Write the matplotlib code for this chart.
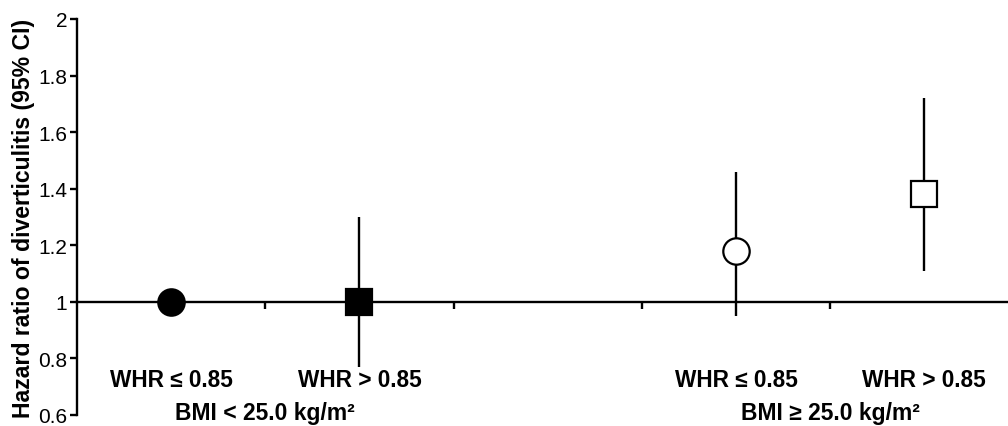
import numpy as np
import matplotlib
matplotlib.use("Agg")
import matplotlib.pyplot as plt

plt.rcParams['font.family'] = ['Liberation Sans', 'DejaVu Sans']

# hazard ratios with 95% CI
positions = [0.5, 1.5, 3.5, 4.5]
hr = [1.00, 1.00, 1.18, 1.38]
ci_low = [np.nan, 0.77, 0.95, 1.11]
ci_high = [np.nan, 1.30, 1.46, 1.72]
markers = ['o', 's', 'o', 's']
facecolors = ['black', 'black', 'white', 'white']

whr_labels = ['WHR \u2264 0.85', 'WHR > 0.85', 'WHR \u2264 0.85', 'WHR > 0.85']
bmi_labels = ['BMI < 25.0 kg/m\u00b2', 'BMI \u2265 25.0 kg/m\u00b2']
bmi_positions = [1, 4]

fig = plt.figure(figsize=(10.08, 4.27), dpi=100)
ax = fig.add_axes([77 / 1008, 11 / 427, 931 / 1008, 396 / 427])

for x, y, lo, hi, m, fc in zip(positions, hr, ci_low, ci_high, markers, facecolors):
    if not np.isnan(lo):
        ax.plot([x, x], [lo, hi], color='black', lw=1.7, zorder=2, solid_capstyle='butt')
    ax.plot(x, y, marker=m, markersize=19, markerfacecolor=fc,
            markeredgecolor='black', markeredgewidth=1.6, linestyle='none', zorder=3)

ax.set_xlim(0, 931 / 188.3)
ax.set_ylim(0.6, 2.0)
ax.set_yticks([0.6, 0.8, 1.0, 1.2, 1.4, 1.6, 1.8, 2.0])
ax.set_yticklabels(['0.6', '0.8', '1', '1.2', '1.4', '1.6', '1.8', '2'])
ax.set_xticks([1, 2, 3, 4])
ax.set_xticklabels([])

for s in ['top', 'right']:
    ax.spines[s].set_visible(False)
ax.spines['bottom'].set_position(('data', 1.0))
ax.spines['bottom'].set_linewidth(1.7)
ax.spines['left'].set_linewidth(1.7)
ax.tick_params(axis='y', direction='out', length=5, width=1.7, labelsize=15, pad=2)
ax.tick_params(axis='x', direction='out', length=5, width=1.7)

ax.set_ylabel('Hazard ratio of diverticulitis (95% CI)', fontsize=16.6,
              fontweight='bold', labelpad=2)

for x, lab in zip(positions, whr_labels):
    ax.text(x, 0.703, lab, ha='center', va='baseline', fontsize=16.3, fontweight='bold')
for x, lab in zip(bmi_positions, bmi_labels):
    ax.text(x, 0.586, lab, ha='center', va='baseline', fontsize=16.5,
            fontweight='bold', clip_on=False)

fig.savefig('out.png', dpi=100)
